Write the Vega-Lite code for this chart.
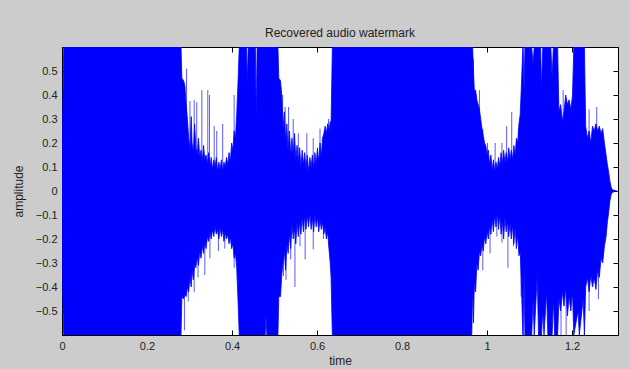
{
  "$schema": "https://vega.github.io/schema/vega-lite/v6.json",
  "width": 556,
  "height": 288,
  "autosize": {"type": "none"},
  "padding": {"left": 62, "top": 47, "right": 12, "bottom": 34},
  "background": "#cccccc",
  "config": {
    "view": {"fill": "white", "stroke": "black", "strokeWidth": 1},
    "font": "Liberation Sans",
    "axis": {
      "labelFont": "Liberation Sans",
      "labelFontSize": 11,
      "labelColor": "#222222",
      "titleFont": "Liberation Sans",
      "titleFontSize": 12,
      "titleFontWeight": "normal",
      "titleColor": "#222222",
      "domainColor": "black",
      "tickColor": "black",
      "tickSize": -5,
      "labelPadding": 10,
      "labelFlush": false,
      "grid": false
    }
  },
  "title": {
    "text": "Recovered audio watermark",
    "font": "Liberation Sans",
    "fontSize": 12,
    "fontWeight": "normal",
    "color": "#222222",
    "offset": 4
  },
  "datasets": {
    "env": [
      {"t": 0.000, "hi": 0.0, "lo": 0.0},
      {"t": 0.002, "hi": 0.35, "lo": -0.45},
      {"t": 0.004, "hi": 0.6, "lo": -0.6},
      {"t": 0.280, "hi": 0.60, "lo": -0.60},
      {"t": 0.282, "hi": 0.47, "lo": -0.44},
      {"t": 0.286, "hi": 0.46, "lo": -0.45},
      {"t": 0.289, "hi": 0.44, "lo": -0.43},
      {"t": 0.292, "hi": 0.36, "lo": -0.44},
      {"t": 0.295, "hi": 0.30, "lo": -0.40},
      {"t": 0.298, "hi": 0.22, "lo": -0.42},
      {"t": 0.301, "hi": 0.17, "lo": -0.36},
      {"t": 0.304, "hi": 0.31, "lo": -0.40},
      {"t": 0.306, "hi": 0.20, "lo": -0.33},
      {"t": 0.309, "hi": 0.16, "lo": -0.37},
      {"t": 0.312, "hi": 0.28, "lo": -0.30},
      {"t": 0.315, "hi": 0.18, "lo": -0.32},
      {"t": 0.318, "hi": 0.15, "lo": -0.27},
      {"t": 0.321, "hi": 0.22, "lo": -0.31},
      {"t": 0.324, "hi": 0.14, "lo": -0.25},
      {"t": 0.327, "hi": 0.17, "lo": -0.28},
      {"t": 0.330, "hi": 0.12, "lo": -0.23},
      {"t": 0.333, "hi": 0.19, "lo": -0.26},
      {"t": 0.336, "hi": 0.13, "lo": -0.21},
      {"t": 0.339, "hi": 0.15, "lo": -0.24},
      {"t": 0.342, "hi": 0.11, "lo": -0.19},
      {"t": 0.345, "hi": 0.16, "lo": -0.21},
      {"t": 0.348, "hi": 0.10, "lo": -0.17},
      {"t": 0.351, "hi": 0.14, "lo": -0.20},
      {"t": 0.354, "hi": 0.09, "lo": -0.16},
      {"t": 0.357, "hi": 0.13, "lo": -0.19},
      {"t": 0.360, "hi": 0.10, "lo": -0.15},
      {"t": 0.363, "hi": 0.14, "lo": -0.18},
      {"t": 0.366, "hi": 0.08, "lo": -0.16},
      {"t": 0.369, "hi": 0.12, "lo": -0.20},
      {"t": 0.372, "hi": 0.09, "lo": -0.15},
      {"t": 0.375, "hi": 0.13, "lo": -0.19},
      {"t": 0.378, "hi": 0.08, "lo": -0.16},
      {"t": 0.381, "hi": 0.12, "lo": -0.21},
      {"t": 0.384, "hi": 0.10, "lo": -0.17},
      {"t": 0.387, "hi": 0.14, "lo": -0.20},
      {"t": 0.390, "hi": 0.11, "lo": -0.18},
      {"t": 0.393, "hi": 0.16, "lo": -0.22},
      {"t": 0.396, "hi": 0.12, "lo": -0.19},
      {"t": 0.399, "hi": 0.20, "lo": -0.24},
      {"t": 0.402, "hi": 0.17, "lo": -0.22},
      {"t": 0.405, "hi": 0.25, "lo": -0.28},
      {"t": 0.408, "hi": 0.22, "lo": -0.26},
      {"t": 0.411, "hi": 0.32, "lo": -0.32},
      {"t": 0.414, "hi": 0.45, "lo": -0.45},
      {"t": 0.417, "hi": 0.60, "lo": -0.60},
      {"t": 0.434, "hi": 0.60, "lo": -0.60},
      {"t": 0.436, "hi": 0.45, "lo": -0.60},
      {"t": 0.438, "hi": 0.60, "lo": -0.60},
      {"t": 0.455, "hi": 0.60, "lo": -0.60},
      {"t": 0.457, "hi": 0.30, "lo": -0.60},
      {"t": 0.459, "hi": 0.60, "lo": -0.60},
      {"t": 0.478, "hi": 0.60, "lo": -0.60},
      {"t": 0.480, "hi": 0.60, "lo": -0.52},
      {"t": 0.482, "hi": 0.60, "lo": -0.60},
      {"t": 0.508, "hi": 0.60, "lo": -0.60},
      {"t": 0.510, "hi": 0.47, "lo": -0.44},
      {"t": 0.514, "hi": 0.46, "lo": -0.44},
      {"t": 0.517, "hi": 0.40, "lo": -0.35},
      {"t": 0.520, "hi": 0.26, "lo": -0.30},
      {"t": 0.523, "hi": 0.33, "lo": -0.25},
      {"t": 0.526, "hi": 0.20, "lo": -0.33},
      {"t": 0.529, "hi": 0.28, "lo": -0.22},
      {"t": 0.532, "hi": 0.16, "lo": -0.26},
      {"t": 0.535, "hi": 0.25, "lo": -0.18},
      {"t": 0.538, "hi": 0.15, "lo": -0.24},
      {"t": 0.541, "hi": 0.22, "lo": -0.14},
      {"t": 0.544, "hi": 0.14, "lo": -0.20},
      {"t": 0.547, "hi": 0.24, "lo": -0.15},
      {"t": 0.550, "hi": 0.13, "lo": -0.22},
      {"t": 0.553, "hi": 0.19, "lo": -0.13},
      {"t": 0.556, "hi": 0.12, "lo": -0.19},
      {"t": 0.559, "hi": 0.18, "lo": -0.12},
      {"t": 0.562, "hi": 0.10, "lo": -0.18},
      {"t": 0.565, "hi": 0.17, "lo": -0.11},
      {"t": 0.568, "hi": 0.11, "lo": -0.17},
      {"t": 0.571, "hi": 0.16, "lo": -0.10},
      {"t": 0.574, "hi": 0.09, "lo": -0.16},
      {"t": 0.577, "hi": 0.15, "lo": -0.10},
      {"t": 0.580, "hi": 0.08, "lo": -0.15},
      {"t": 0.583, "hi": 0.14, "lo": -0.09},
      {"t": 0.586, "hi": 0.10, "lo": -0.16},
      {"t": 0.589, "hi": 0.15, "lo": -0.11},
      {"t": 0.592, "hi": 0.09, "lo": -0.17},
      {"t": 0.595, "hi": 0.16, "lo": -0.10},
      {"t": 0.598, "hi": 0.11, "lo": -0.15},
      {"t": 0.601, "hi": 0.18, "lo": -0.11},
      {"t": 0.604, "hi": 0.12, "lo": -0.17},
      {"t": 0.607, "hi": 0.20, "lo": -0.12},
      {"t": 0.610, "hi": 0.14, "lo": -0.16},
      {"t": 0.613, "hi": 0.22, "lo": -0.13},
      {"t": 0.616, "hi": 0.24, "lo": -0.18},
      {"t": 0.619, "hi": 0.27, "lo": -0.15},
      {"t": 0.622, "hi": 0.24, "lo": -0.20},
      {"t": 0.625, "hi": 0.28, "lo": -0.17},
      {"t": 0.628, "hi": 0.25, "lo": -0.24},
      {"t": 0.631, "hi": 0.29, "lo": -0.30},
      {"t": 0.633, "hi": 0.28, "lo": -0.36},
      {"t": 0.636, "hi": 0.60, "lo": -0.60},
      {"t": 0.964, "hi": 0.60, "lo": -0.60},
      {"t": 0.966, "hi": 0.60, "lo": -0.40},
      {"t": 0.968, "hi": 0.50, "lo": -0.55},
      {"t": 0.970, "hi": 0.42, "lo": -0.38},
      {"t": 0.973, "hi": 0.42, "lo": -0.42},
      {"t": 0.976, "hi": 0.38, "lo": -0.30},
      {"t": 0.979, "hi": 0.36, "lo": -0.33},
      {"t": 0.982, "hi": 0.34, "lo": -0.25},
      {"t": 0.985, "hi": 0.30, "lo": -0.27},
      {"t": 0.988, "hi": 0.26, "lo": -0.22},
      {"t": 0.991, "hi": 0.23, "lo": -0.25},
      {"t": 0.994, "hi": 0.20, "lo": -0.19},
      {"t": 0.997, "hi": 0.19, "lo": -0.22},
      {"t": 1.000, "hi": 0.15, "lo": -0.17},
      {"t": 1.003, "hi": 0.17, "lo": -0.20},
      {"t": 1.006, "hi": 0.11, "lo": -0.14},
      {"t": 1.009, "hi": 0.15, "lo": -0.18},
      {"t": 1.012, "hi": 0.09, "lo": -0.12},
      {"t": 1.015, "hi": 0.13, "lo": -0.17},
      {"t": 1.018, "hi": 0.08, "lo": -0.10},
      {"t": 1.021, "hi": 0.12, "lo": -0.15},
      {"t": 1.024, "hi": 0.09, "lo": -0.09},
      {"t": 1.027, "hi": 0.14, "lo": -0.16},
      {"t": 1.030, "hi": 0.10, "lo": -0.10},
      {"t": 1.033, "hi": 0.16, "lo": -0.18},
      {"t": 1.036, "hi": 0.11, "lo": -0.12},
      {"t": 1.039, "hi": 0.17, "lo": -0.20},
      {"t": 1.042, "hi": 0.12, "lo": -0.11},
      {"t": 1.045, "hi": 0.16, "lo": -0.17},
      {"t": 1.048, "hi": 0.12, "lo": -0.12},
      {"t": 1.051, "hi": 0.18, "lo": -0.19},
      {"t": 1.054, "hi": 0.13, "lo": -0.13},
      {"t": 1.057, "hi": 0.17, "lo": -0.20},
      {"t": 1.060, "hi": 0.13, "lo": -0.14},
      {"t": 1.063, "hi": 0.19, "lo": -0.22},
      {"t": 1.066, "hi": 0.15, "lo": -0.15},
      {"t": 1.069, "hi": 0.22, "lo": -0.24},
      {"t": 1.072, "hi": 0.20, "lo": -0.18},
      {"t": 1.075, "hi": 0.28, "lo": -0.27},
      {"t": 1.078, "hi": 0.32, "lo": -0.25},
      {"t": 1.081, "hi": 0.45, "lo": -0.40},
      {"t": 1.084, "hi": 0.60, "lo": -0.60},
      {"t": 1.085, "hi": 0.60, "lo": -0.60},
      {"t": 1.087, "hi": 0.42, "lo": -0.33},
      {"t": 1.089, "hi": 0.60, "lo": -0.60},
      {"t": 1.105, "hi": 0.60, "lo": -0.60},
      {"t": 1.108, "hi": 0.53, "lo": -0.45},
      {"t": 1.111, "hi": 0.60, "lo": -0.60},
      {"t": 1.118, "hi": 0.60, "lo": -0.35},
      {"t": 1.121, "hi": 0.60, "lo": -0.60},
      {"t": 1.126, "hi": 0.60, "lo": -0.60},
      {"t": 1.128, "hi": 0.42, "lo": -0.60},
      {"t": 1.131, "hi": 0.60, "lo": -0.50},
      {"t": 1.134, "hi": 0.60, "lo": -0.60},
      {"t": 1.140, "hi": 0.60, "lo": -0.42},
      {"t": 1.143, "hi": 0.60, "lo": -0.60},
      {"t": 1.150, "hi": 0.60, "lo": -0.60},
      {"t": 1.153, "hi": 0.47, "lo": -0.60},
      {"t": 1.156, "hi": 0.60, "lo": -0.45},
      {"t": 1.159, "hi": 0.60, "lo": -0.60},
      {"t": 1.166, "hi": 0.60, "lo": -0.60},
      {"t": 1.169, "hi": 0.33, "lo": -0.45},
      {"t": 1.173, "hi": 0.36, "lo": -0.50},
      {"t": 1.177, "hi": 0.29, "lo": -0.42},
      {"t": 1.181, "hi": 0.33, "lo": -0.48},
      {"t": 1.185, "hi": 0.40, "lo": -0.40},
      {"t": 1.189, "hi": 0.36, "lo": -0.52},
      {"t": 1.193, "hi": 0.38, "lo": -0.44},
      {"t": 1.197, "hi": 0.34, "lo": -0.50},
      {"t": 1.201, "hi": 0.40, "lo": -0.42},
      {"t": 1.204, "hi": 0.60, "lo": -0.60},
      {"t": 1.214, "hi": 0.60, "lo": -0.50},
      {"t": 1.217, "hi": 0.60, "lo": -0.60},
      {"t": 1.226, "hi": 0.60, "lo": -0.45},
      {"t": 1.229, "hi": 0.60, "lo": -0.60},
      {"t": 1.232, "hi": 0.27, "lo": -0.40},
      {"t": 1.236, "hi": 0.22, "lo": -0.36},
      {"t": 1.240, "hi": 0.25, "lo": -0.42},
      {"t": 1.244, "hi": 0.20, "lo": -0.35},
      {"t": 1.248, "hi": 0.27, "lo": -0.40},
      {"t": 1.252, "hi": 0.25, "lo": -0.36},
      {"t": 1.256, "hi": 0.28, "lo": -0.41},
      {"t": 1.260, "hi": 0.25, "lo": -0.33},
      {"t": 1.264, "hi": 0.27, "lo": -0.36},
      {"t": 1.268, "hi": 0.24, "lo": -0.28},
      {"t": 1.272, "hi": 0.26, "lo": -0.30},
      {"t": 1.276, "hi": 0.20, "lo": -0.23},
      {"t": 1.280, "hi": 0.15, "lo": -0.19},
      {"t": 1.283, "hi": 0.11, "lo": -0.13},
      {"t": 1.286, "hi": 0.08, "lo": -0.09},
      {"t": 1.289, "hi": 0.04, "lo": -0.04},
      {"t": 1.292, "hi": 0.015, "lo": -0.015},
      {"t": 1.295, "hi": 0.005, "lo": -0.005},
      {"t": 1.305, "hi": 0.0, "lo": 0.0}
    ],
    "spikes": [
      {"t": 0.293, "v": 0.51}, {"t": 0.301, "v": 0.375}, {"t": 0.311, "v": 0.38}, {"t": 0.317, "v": 0.37},
      {"t": 0.329, "v": 0.42}, {"t": 0.343, "v": 0.42}, {"t": 0.347, "v": 0.40}, {"t": 0.358, "v": 0.27},
      {"t": 0.364, "v": 0.25}, {"t": 0.378, "v": 0.28}, {"t": 0.405, "v": 0.40},
      {"t": 0.2776, "v": -0.6}, {"t": 0.288, "v": -0.58}, {"t": 0.297, "v": -0.46}, {"t": 0.311, "v": -0.42},
      {"t": 0.320, "v": -0.36}, {"t": 0.336, "v": -0.35}, {"t": 0.348, "v": -0.28}, {"t": 0.368, "v": -0.25},
      {"t": 0.383, "v": -0.24}, {"t": 0.405, "v": -0.32},
      {"t": 0.519, "v": 0.40}, {"t": 0.525, "v": 0.35}, {"t": 0.533, "v": 0.35}, {"t": 0.544, "v": 0.30},
      {"t": 0.556, "v": 0.24}, {"t": 0.576, "v": 0.24}, {"t": 0.591, "v": 0.22}, {"t": 0.607, "v": 0.26},
      {"t": 0.627, "v": 0.30},
      {"t": 0.521, "v": -0.354}, {"t": 0.527, "v": -0.37}, {"t": 0.538, "v": -0.285}, {"t": 0.548, "v": -0.40},
      {"t": 0.560, "v": -0.23}, {"t": 0.572, "v": -0.285}, {"t": 0.591, "v": -0.243}, {"t": 0.615, "v": -0.20},
      {"t": 0.629, "v": -0.243},
      {"t": 0.968, "v": 0.55}, {"t": 0.982, "v": 0.42}, {"t": 0.990, "v": 0.26}, {"t": 1.001, "v": 0.20},
      {"t": 1.019, "v": 0.20}, {"t": 1.035, "v": 0.20}, {"t": 1.046, "v": 0.27}, {"t": 1.058, "v": 0.33},
      {"t": 1.074, "v": 0.26},
      {"t": 0.962, "v": -0.58}, {"t": 0.972, "v": -0.42}, {"t": 0.980, "v": -0.285}, {"t": 0.990, "v": -0.33},
      {"t": 1.007, "v": -0.26}, {"t": 1.023, "v": -0.19}, {"t": 1.035, "v": -0.215}, {"t": 1.049, "v": -0.32},
      {"t": 1.062, "v": -0.23}, {"t": 1.080, "v": -0.44},
      {"t": 1.179, "v": 0.42}, {"t": 1.240, "v": 0.34}, {"t": 1.258, "v": 0.35},
      {"t": 1.174, "v": -0.6}, {"t": 1.186, "v": -0.6}, {"t": 1.240, "v": -0.5}, {"t": 1.262, "v": -0.45}
    ]
  },
  "layer": [
    {
      "data": {"name": "spikes"},
      "mark": {"type": "rule", "color": "#5a5aff", "strokeWidth": 1, "clip": true},
      "encoding": {
        "x": {"field": "t", "type": "quantitative", "scale": {"domain": [0, 1.308], "nice": false, "zero": false}, "axis": null},
        "y": {"field": "v", "type": "quantitative", "scale": {"domain": [-0.6, 0.6], "nice": false, "zero": false}, "axis": null},
        "y2": {"datum": 0}
      }
    },
    {
      "data": {"name": "env"},
      "mark": {"type": "area", "color": "#0000ff", "clip": true, "stroke": "#0000ff", "strokeWidth": 0.8},
      "encoding": {
        "x": {
          "field": "t", "type": "quantitative",
          "scale": {"domain": [0, 1.308], "nice": false, "zero": false},
          "axis": {"title": "time", "values": [0, 0.2, 0.4, 0.6, 0.8, 1, 1.2], "format": "~g", "titlePadding": 4, "orient": "bottom"}
        },
        "y": {
          "field": "hi", "type": "quantitative",
          "scale": {"domain": [-0.6, 0.6], "nice": false, "zero": false},
          "axis": {"title": "amplitude", "values": [-0.5, -0.4, -0.3, -0.2, -0.1, 0, 0.1, 0.2, 0.3, 0.4, 0.5], "format": "~g", "titlePadding": 10, "orient": "left"}
        },
        "y2": {"field": "lo"}
      }
    },
    {
      "data": {"name": "env"},
      "mark": {"type": "point", "opacity": 0},
      "encoding": {
        "x": {
          "field": "t", "type": "quantitative",
          "scale": {"domain": [0, 1.308], "nice": false, "zero": false},
          "axis": {"orient": "top", "labels": false, "title": null, "values": [0, 0.2, 0.4, 0.6, 0.8, 1, 1.2]}
        },
        "y": {
          "field": "hi", "type": "quantitative",
          "scale": {"domain": [-0.6, 0.6], "nice": false, "zero": false},
          "axis": {"orient": "right", "labels": false, "title": null, "values": [-0.5, -0.4, -0.3, -0.2, -0.1, 0, 0.1, 0.2, 0.3, 0.4, 0.5]}
        }
      }
    }
  ],
  "resolve": {"axis": {"x": "independent", "y": "independent"}}
}
